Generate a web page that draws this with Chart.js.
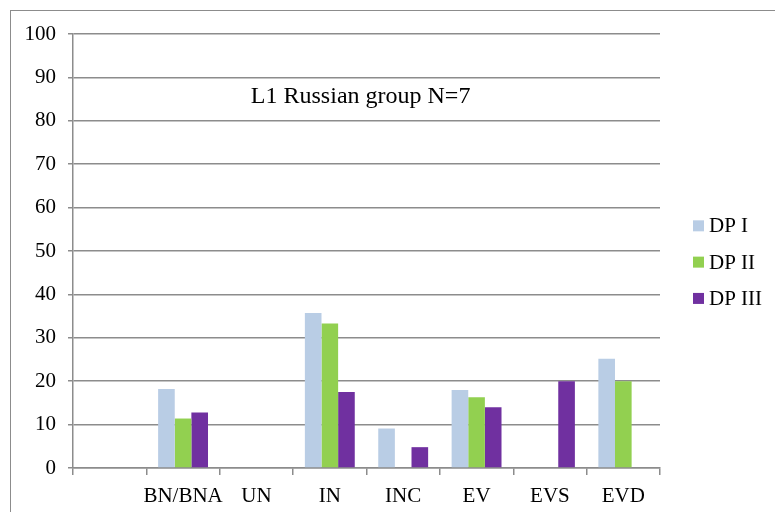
<!DOCTYPE html>
<html>
<head>
<meta charset="utf-8">
<script src="https://cdn.jsdelivr.net/npm/chart.js@4/dist/chart.umd.min.js"></script>
<style>
  html, body { margin: 0; padding: 0; background: #fff; overflow: hidden; }
  #wrap { position: relative; width: 775px; height: 512px; }
  #frame { position: absolute; left: 10px; top: 10px; width: 800px; height: 560px;
           border: 1.5px solid #8c8c8c; box-sizing: border-box; }
  canvas { position: absolute; left: 0; top: 0; }
</style>
</head>
<body>
<div id="wrap">
  <div id="frame"></div>
  <canvas id="c" width="775" height="512"></canvas>
</div>
<script>
const categories = ['', 'BN/BNA', 'UN', 'IN', 'INC', 'EV', 'EVS', 'EVD'];
const dp1 = [null, 18.2, 0, 35.7, 9.1, 18.0, 0, 25.2];
const dp2 = [null, 11.4, 0, 33.3, 0, 16.3, 0, 20.0];
const dp3 = [null, 12.8, 0, 17.5, 4.8, 14.0, 20.0, null];
const seriesNames = ['DP I', 'DP II', 'DP III'];
const seriesColors = ['#b9cde5', '#92d050', '#7030a0'];
const yTicks = [0, 10, 20, 30, 40, 50, 60, 70, 80, 90, 100];
const chartTitle = 'L1 Russian group N=7';

const FONT = "'Liberation Serif', 'Times New Roman', serif";

const titlePlugin = {
  id: 'innerTitle',
  afterDraw(chart) {
    const ctx = chart.ctx, a = chart.chartArea, y = chart.scales.y;
    ctx.save();
    ctx.font = '24px ' + FONT;
    ctx.fillStyle = '#000';
    ctx.textAlign = 'center';
    ctx.textBaseline = 'alphabetic';
    ctx.fillText(chartTitle, a.left + (a.right - a.left) * 0.49, y.getPixelForValue(84.0));
    ctx.restore();
  }
};

const legendPlugin = {
  id: 'sideLegend',
  afterDraw(chart) {
    const ctx = chart.ctx, a = chart.chartArea;
    const y = chart.scales.y;
    ctx.save();
    ctx.font = '21px ' + FONT;
    ctx.textBaseline = 'middle';
    ctx.textAlign = 'left';
    const x0 = a.right + 33;
    const startY = y.getPixelForValue(55.8);
    const step = 36.3;
    chart.data.datasets.forEach((ds, i) => {
      const cy = startY + i * step;
      ctx.fillStyle = ds.backgroundColor;
      ctx.fillRect(x0, cy - 5.5, 11, 11);
      ctx.fillStyle = '#000';
      ctx.fillText(ds.label, x0 + 16, cy + 1);
    });
    ctx.restore();
  }
};

const seriesData = [dp1, dp2, dp3];

new Chart(document.getElementById('c'), {
  type: 'bar',
  data: {
    labels: categories,
    datasets: seriesNames.map((n, i) => ({
      label: n,
      data: seriesData[i],
      backgroundColor: seriesColors[i],
      borderWidth: 0,
      barPercentage: 1.0,
      categoryPercentage: 0.68
    }))
  },
  options: {
    responsive: false,
    animation: false,
    devicePixelRatio: 1,
    layout: { padding: { left: 0, top: 34, right: 115, bottom: 0 } },
    plugins: {
      legend: { display: false },
      title: { display: false },
      tooltip: { enabled: false }
    },
    scales: {
      x: {
        afterFit(s) { s.height = 44; },
        grid: {
          offset: true,
          drawOnChartArea: false,
          drawTicks: true,
          tickLength: 7,
          color: '#8c8c8c',
          lineWidth: 1.5
        },
        border: { display: true, color: '#8c8c8c', width: 1.5 },
        ticks: {
          color: '#000',
          font: { family: FONT, size: 21 },
          padding: 9,
          maxRotation: 0,
          autoSkip: false
        }
      },
      y: {
        min: 0,
        max: 100,
        afterFit(s) { s.width = 73; },
        afterBuildTicks(s) { s.ticks = yTicks.map(v => ({ value: v })); },
        grid: {
          color: '#8c8c8c',
          lineWidth: 1.5,
          drawTicks: true,
          tickLength: 5
        },
        border: { display: true, color: '#8c8c8c', width: 1.5 },
        ticks: {
          color: '#000',
          font: { family: FONT, size: 21 },
          padding: 12
        }
      }
    }
  },
  plugins: [titlePlugin, legendPlugin]
});
</script>
</body>
</html>
